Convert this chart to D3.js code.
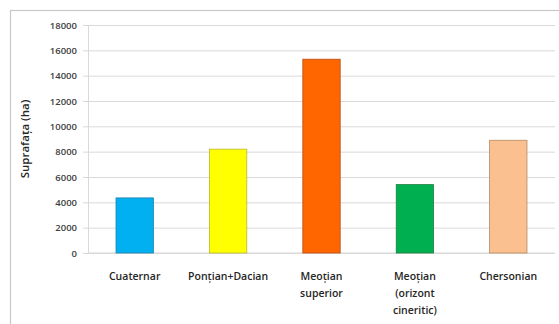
<!DOCTYPE html>
<html>
<head>
<meta charset="utf-8">
<script src="https://cdn.jsdelivr.net/npm/d3@7"></script>
<style>
  html, body { margin: 0; padding: 0; background: #fff; }
  svg { display: block; }
  text { font-family: "Open Sans", "Noto Sans", sans-serif; }
</style>
</head>
<body>
<div id="chart"></div>
<script>
// Suprafața pe unități geologice
const categories = ["Cuaternar", "Ponțian+Dacian", "Meoțian\nsuperior", "Meoțian\n(orizont\ncineritic)", "Chersonian"];
const values = [4350, 8200, 15300, 5400, 8900];
const fills = ["#00B0F0", "#FFFF00", "#FF6600", "#00B050", "#FAC090"];
const strokes = ["#1F7FB0", "#B8B830", "#B84A10", "#1E8040", "#B88A60"];
const yTicks = [0, 2000, 4000, 6000, 8000, 10000, 12000, 14000, 16000, 18000];
const yTitle = "Suprafața (ha)";

const W = 559, H = 324;
const plot = { left: 88, right: 555, top: 25, bottom: 253 };

const svg = d3.select("#chart").append("svg").attr("width", W).attr("height", H);

// chart area frame
svg.append("rect")
  .attr("x", 10.5).attr("y", 10.5)
  .attr("width", W + 20).attr("height", H + 20)
  .attr("fill", "#fff").attr("stroke", "#c8c8c8").attr("stroke-width", 1.2);

const x = d3.scaleBand().domain(categories).range([plot.left, plot.right]).paddingInner(0.6).paddingOuter(0.3);
const y = d3.scaleLinear().domain([0, 18000]).range([plot.bottom, plot.top]);

// gridlines
const grid = svg.append("g")
  .attr("transform", `translate(${plot.left},0)`)
  .call(d3.axisLeft(y).tickValues(yTicks).tickSize(-(plot.right - plot.left)).tickFormat(""));
grid.select(".domain").remove();
grid.selectAll("line").attr("stroke", "#d9d9d9").attr("stroke-width", 1);

// y axis with outer tick marks
const yAxis = svg.append("g")
  .attr("transform", `translate(${plot.left},0)`)
  .call(d3.axisLeft(y).tickValues(yTicks).tickSize(5).tickPadding(6).tickFormat(d3.format("d")));
yAxis.select(".domain").attr("stroke", "#d9d9d9");
yAxis.selectAll("line").attr("stroke", "#d9d9d9");
yAxis.selectAll("text").attr("font-size", 9.5).attr("font-weight", 600).attr("fill", "#404040");

// baseline
svg.append("line")
  .attr("x1", plot.left).attr("x2", plot.right)
  .attr("y1", y(0)).attr("y2", y(0))
  .attr("stroke", "#d9d9d9");

// bars
svg.append("g").selectAll("rect").data(categories).join("rect")
  .attr("x", d => x(d))
  .attr("y", (d, i) => y(values[i]))
  .attr("width", x.bandwidth())
  .attr("height", (d, i) => y(0) - y(values[i]))
  .attr("fill", (d, i) => fills[i])
  .attr("stroke", (d, i) => strokes[i])
  .attr("stroke-width", 0.8);

// category labels
const xl = svg.append("g").selectAll("text").data(categories).join("text")
  .attr("x", d => x(d) + x.bandwidth() / 2)
  .attr("y", 280)
  .attr("text-anchor", "middle")
  .attr("font-size", 10.5)
  .attr("font-weight", 600)
  .attr("fill", "#262626");
xl.each(function (d) {
  const t = d3.select(this);
  d.split("\n").forEach((line, k) => {
    t.append("tspan").attr("x", t.attr("x")).attr("dy", k === 0 ? 0 : 17).text(line);
  });
});

// y axis title
svg.append("text")
  .attr("transform", `translate(29,${(y(0) + y(18000)) / 2}) rotate(-90)`)
  .attr("text-anchor", "middle")
  .attr("font-size", 11.5)
  .attr("font-weight", 600)
  .attr("fill", "#262626")
  .text(yTitle);
</script>
</body>
</html>
